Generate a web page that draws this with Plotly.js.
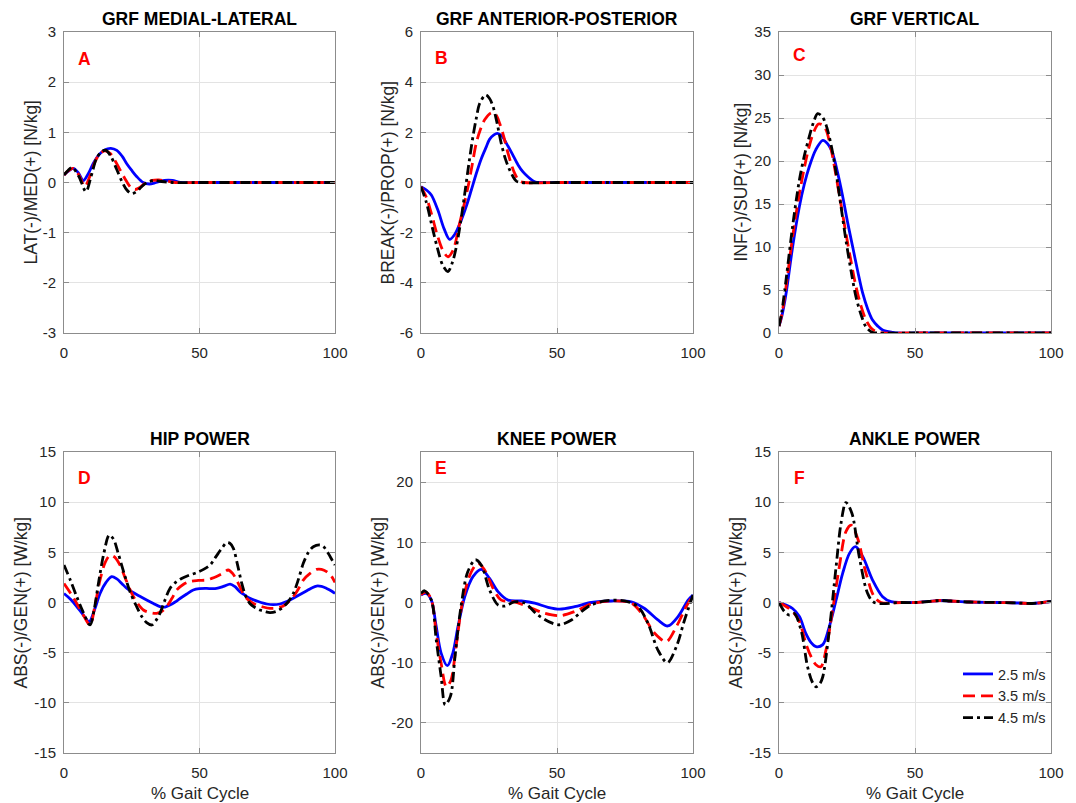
<!DOCTYPE html>
<html>
<head>
<meta charset="utf-8">
<script src="https://cdn.plot.ly/plotly-3.0.1.min.js"></script>
<style>html,body{margin:0;padding:0;background:#fff;}#chart{width:1076px;height:803px;}</style>
</head>
<body>
<div id="chart"></div>
<script>
// ---------- DATA ----------
const seriesNames = ['2.5 m/s', '3.5 m/s', '4.5 m/s'];
const panelTitles = ['GRF MEDIAL-LATERAL', 'GRF ANTERIOR-POSTERIOR', 'GRF VERTICAL', 'HIP POWER', 'KNEE POWER', 'ANKLE POWER'];
const panelLetters = ['A', 'B', 'C', 'D', 'E', 'F'];
const yTitles = ['LAT(-)/MED(+) [N/kg]', 'BREAK(-)/PROP(+) [N/kg]', 'INF(-)/SUP(+) [N/kg]', 'ABS(-)/GEN(+) [W/kg]', 'ABS(-)/GEN(+) [W/kg]', 'ABS(-)/GEN(+) [W/kg]'];
const xTitle = '% Gait Cycle';
const xTickVals = [0, 50, 100];
const xTickText = ['0', '50', '100'];
const yTickValsA = [-3, -2, -1, 0, 1, 2, 3];
const yTickTextA = ['-3', '-2', '-1', '0', '1', '2', '3'];
const yTickValsB = [-6, -4, -2, 0, 2, 4, 6];
const yTickTextB = ['-6', '-4', '-2', '0', '2', '4', '6'];
const yTickValsC = [0, 5, 10, 15, 20, 25, 30, 35];
const yTickTextC = ['0', '5', '10', '15', '20', '25', '30', '35'];
const yTickValsD = [-15, -10, -5, 0, 5, 10, 15];
const yTickTextD = ['-15', '-10', '-5', '0', '5', '10', '15'];
const yTickValsE = [-20, -10, 0, 10, 20];
const yTickTextE = ['-20', '-10', '0', '10', '20'];
const yTickValsF = [-15, -10, -5, 0, 5, 10, 15];
const yTickTextF = ['-15', '-10', '-5', '0', '5', '10', '15'];

// Panel A - GRF medial-lateral
const xA25 = [0, 1.5, 3.4, 5.2, 7.1, 9, 10.8, 13, 15, 17.3, 19.5, 21.5, 23.1, 25, 26.8, 29.2, 31.5, 34, 37, 40, 43, 50, 100];
const yA25 = [0.15, 0.22, 0.28, 0.2, 0.04, 0.18, 0.38, 0.56, 0.65, 0.68, 0.64, 0.52, 0.38, 0.24, 0.12, 0.0, -0.03, 0.0, 0.04, 0.04, 0.0, 0, 0];
const xA35 = [0, 1.5, 3.4, 5.5, 7.7, 9.5, 11.5, 13.3, 15.1, 17, 19, 21, 23, 24.7, 26.2, 28, 30, 32.5, 35, 38, 41, 50, 100];
const yA35 = [0.15, 0.23, 0.28, 0.15, -0.08, 0.12, 0.42, 0.58, 0.63, 0.58, 0.42, 0.22, 0.03, -0.1, -0.14, -0.1, -0.01, 0.04, 0.05, 0.03, 0, 0, 0];
const xA45 = [0, 1.5, 3, 5.5, 8.1, 10, 12, 14, 15.5, 17.3, 19.3, 21.3, 23.2, 24.9, 26.8, 28.7, 31, 33.5, 36, 40, 50, 100];
const yA45 = [0.15, 0.24, 0.3, 0.12, -0.18, 0.12, 0.48, 0.62, 0.64, 0.52, 0.28, 0.03, -0.15, -0.22, -0.18, -0.08, 0.01, 0.04, 0.02, 0, 0, 0];

// Panel B - GRF anterior-posterior
const xB25 = [0, 2, 3.8, 6.2, 8.5, 10.5, 12.5, 14.8, 16.8, 18.5, 20.3, 22.2, 24, 25.2, 26.8, 28.1, 29.8, 31.4, 33.5, 35.7, 37.5, 39.3, 41.8, 44, 50, 100];
const yB25 = [-0.17, -0.3, -0.5, -1.1, -1.85, -2.27, -2.05, -1.5, -0.9, -0.3, 0.35, 0.96, 1.42, 1.72, 1.9, 1.96, 1.85, 1.56, 1.15, 0.7, 0.42, 0.23, 0.03, 0, 0, 0];
const xB35 = [0, 2, 3.8, 6, 8, 9.9, 11.8, 14.2, 15.8, 17.3, 18.8, 20.3, 21.8, 23.4, 25.9, 27.5, 28.9, 30.5, 32, 34.4, 36.2, 38, 50, 100];
const yB35 = [-0.17, -0.6, -1.23, -2.1, -2.7, -2.96, -2.7, -1.63, -0.9, -0.17, 0.7, 1.56, 2.1, 2.5, 2.78, 2.7, 2.36, 1.8, 1.16, 0.37, 0.06, 0, 0, 0];
const xB45 = [0, 2, 3.8, 6, 8, 9.9, 11.5, 13, 14.6, 16.1, 17.6, 19.1, 20.4, 21.6, 23.8, 25.2, 26.5, 28, 29.5, 31, 32.6, 35, 37, 50, 100];
const yB45 = [-0.17, -0.8, -1.63, -2.6, -3.3, -3.55, -3.2, -2.56, -1.55, -0.43, 0.75, 1.83, 2.6, 3.16, 3.49, 3.35, 3.02, 2.35, 1.56, 0.95, 0.5, 0.06, 0, 0, 0];

// Panel C - GRF vertical
const xC25 = [0, 1, 2.6, 5, 7.5, 9.3, 11.1, 13.5, 16.1, 17.9, 19.7, 21.5, 23.4, 25.2, 27.1, 29, 30.8, 32.6, 34.4, 36.3, 38.1, 41.8, 44, 50, 100];
const yC25 = [0.8, 1.9, 4.6, 10, 14.7, 17.3, 19.3, 21.3, 22.4, 22.0, 20.9, 18.7, 15.9, 12.9, 10, 7.1, 4.6, 2.8, 1.5, 0.8, 0.35, 0.08, 0, 0, 0];
const xC35 = [0, 1, 2.6, 5, 7.5, 9.3, 11.1, 12.8, 14.5, 16, 17.3, 19.2, 21, 22.8, 24.6, 26.5, 28.3, 30.2, 32, 33.8, 35.7, 38, 50, 100];
const yC35 = [0.8, 2.1, 5.4, 11.2, 16.2, 19.2, 21.7, 23.4, 24.3, 24.2, 23.6, 21.3, 18.2, 14.9, 11.6, 8.3, 5.4, 3.1, 1.5, 0.6, 0.15, 0, 0, 0];
const xC45 = [0, 1, 2.6, 5, 7.5, 9.3, 11.1, 12.7, 14.2, 15.8, 17.3, 19.2, 21, 22.8, 24.6, 26.5, 28.3, 30.2, 32, 34.4, 36, 50, 100];
const yC45 = [0.8, 2.4, 6.2, 12.4, 17.8, 20.6, 22.8, 24.5, 25.5, 25.2, 24.2, 21.8, 18.6, 14.7, 10.8, 7.2, 4.2, 2.1, 0.7, 0.05, 0, 0, 0];

// Panel D - hip power
const xD25 = [0, 2.5, 4.7, 7, 9.3, 11.3, 13.3, 15.5, 17.6, 19.5, 21.3, 23, 25, 27.8, 30.5, 33, 35.4, 37.3, 39.1, 41, 42.8, 45.3, 47.7, 50, 52.7, 54.5, 56.3, 58.8, 61.3, 63, 64.9, 66.8, 68.6, 71.7, 74.8, 77.2, 79.7, 82.2, 84.6, 87.1, 89.6, 91.4, 93.2, 95, 96.9, 98.7, 100];
const yD25 = [0.9, 0.3, -0.4, -1.2, -1.9, -0.7, 0.9, 2.0, 2.57, 2.35, 1.9, 1.45, 1.08, 0.65, 0.25, -0.1, -0.42, -0.45, -0.25, 0.05, 0.4, 0.85, 1.25, 1.38, 1.4, 1.38, 1.4, 1.6, 1.84, 1.6, 1.08, 0.72, 0.42, 0.1, -0.15, -0.22, -0.15, 0.1, 0.42, 0.8, 1.18, 1.45, 1.64, 1.6, 1.4, 1.15, 0.9];
const xD35 = [0, 2.5, 4.7, 7, 9.6, 11.5, 13.3, 15.2, 17, 18.8, 20.7, 22.8, 25, 27.2, 29.3, 31.7, 34.2, 36, 37.9, 39.8, 41.6, 44, 46.5, 49.5, 52.7, 54.5, 56.3, 58.5, 60.6, 62.2, 63.7, 65.2, 66.8, 69, 71.1, 73.5, 76, 78.5, 80.9, 82.8, 84.6, 86.5, 88.3, 90.8, 93.2, 95, 96.9, 98.7, 100];
const yD35 = [1.9, 0.9, -0.1, -1.2, -2.24, -0.2, 2.24, 4.0, 4.7, 4.5, 3.7, 2.3, 0.9, -0.1, -0.75, -1.0, -1.08, -0.9, -0.4, 0.4, 1.25, 1.8, 2.1, 2.2, 2.24, 2.4, 2.6, 2.9, 3.24, 2.9, 2.24, 1.4, 0.58, 0.05, -0.25, -0.45, -0.58, -0.55, -0.35, 0.05, 0.58, 1.35, 2.24, 2.9, 3.3, 3.3, 3.07, 2.6, 2.0];
const xD45 = [0, 2.4, 4.7, 7, 9.6, 11.2, 12.7, 14.7, 16.7, 18.3, 20, 22.3, 24.6, 26.6, 28.7, 30.5, 32.4, 33.9, 35.4, 37.2, 39.1, 41.2, 43.4, 46, 48.9, 51.5, 53.9, 55.4, 56.9, 58.5, 60, 61.2, 62.5, 64, 65.6, 67.1, 68.6, 70.5, 72.3, 74.2, 76, 78.2, 80.3, 82.5, 84.6, 86.5, 88.3, 90.2, 92, 94.5, 96, 97.5, 99, 100];
const yD45 = [3.74, 2.2, 0.58, -0.9, -2.24, -0.6, 1.9, 4.9, 6.72, 6.3, 4.9, 2.8, 0.9, -0.3, -1.4, -2.0, -2.24, -1.8, -1.08, 0.2, 1.4, 2.0, 2.4, 2.7, 2.97, 3.3, 3.74, 4.3, 4.9, 5.5, 5.96, 5.9, 5.4, 3.8, 1.9, 0.6, -0.1, -0.5, -0.75, -0.9, -1.0, -0.9, -0.58, 0.0, 0.9, 2.3, 3.9, 5.0, 5.56, 5.73, 5.5, 4.9, 4.2, 3.74];

// Panel E - knee power
const xE25 = [0, 1.9, 3.8, 5.6, 7.4, 9.7, 11.7, 13.6, 16.1, 19.1, 22.2, 25.2, 28.3, 32, 36.9, 41.8, 46.7, 51, 56.5, 62.6, 70, 77.3, 82.2, 87.1, 90.8, 94.5, 98.2, 100];
const yE25 = [1.25, 1.5, 0.4, -4, -8.4, -10.5, -8.4, -4, 1, 4.3, 5.5, 4, 1.8, 0.4, 0.25, -0.1, -0.8, -1.1, -0.7, 0, 0.25, 0.1, -1, -2.9, -3.9, -2.35, 0.4, 1.25];
const xE35 = [0, 1.9, 3.8, 5.6, 7.4, 9.3, 11, 12.9, 15.4, 18.5, 21, 23.4, 26.5, 29.5, 34.4, 39.3, 45.5, 51, 56.5, 62.6, 70, 77.3, 81.6, 85.9, 90.2, 93.9, 97.5, 100];
const yE35 = [1.3, 1.7, 0.5, -5.1, -10.1, -14, -12.9, -7.3, 0.4, 5.1, 6.5, 5.4, 2.35, 0.4, 0.1, -0.7, -1.8, -2.2, -1.5, -0.25, 0.25, -0.1, -2.1, -5.1, -6.5, -4, -0.7, 1.25];
const xE45 = [0, 1.3, 3.8, 5.6, 7.4, 8.9, 10.8, 12.5, 14.7, 17.2, 20, 22.2, 25.2, 28.3, 30.8, 34.4, 38.1, 43, 47.8, 51, 55.3, 61.4, 67.5, 74.8, 79.8, 83.5, 87.1, 90.6, 93.9, 96.9, 100];
const yE45 = [1.5, 1.95, 0.4, -6.2, -12.3, -17, -15.6, -9, -0.7, 5.1, 7.1, 6.2, 2.1, -0.4, -0.6, 0.1, -0.1, -2.1, -3.35, -3.7, -2.9, -0.7, 0.25, 0.25, -0.7, -3.5, -7.9, -10, -7.3, -2.9, 1.25];

// Panel F - ankle power
const xF25 = [0, 2.6, 5, 7.5, 9.9, 11.8, 13.6, 16.1, 18.5, 21, 23.4, 25.9, 28.1, 30.8, 34.4, 38.1, 41.2, 45, 50, 55, 59, 63, 70, 80, 88, 93, 97, 100];
const yF25 = [0, -0.25, -0.6, -1.4, -3.1, -4.0, -4.4, -4.2, -2.4, 0.25, 2.9, 4.9, 5.56, 4.57, 2.24, 0.58, 0.08, 0, 0, 0.1, 0.2, 0.15, 0.05, 0, -0.05, -0.1, 0, 0.1];
const xF35 = [0, 2.6, 5, 7.5, 9.9, 11.8, 13.6, 15.4, 17.3, 19.7, 22.2, 24.6, 26.5, 28.9, 32, 35, 37.5, 45, 50, 55, 59, 63, 70, 80, 88, 93, 97, 100];
const yF35 = [0, -0.4, -0.9, -1.9, -4.1, -5.4, -6.2, -6.4, -4.7, -0.75, 3.6, 7.06, 7.7, 6.4, 2.9, 0.58, 0, 0, 0, 0.1, 0.2, 0.15, 0.05, 0, -0.05, -0.1, 0, 0.1];
const xF45 = [0, 2, 3.8, 5.6, 8.1, 10.5, 12.2, 13.6, 15, 16.1, 18.5, 21, 22.8, 24.6, 26.8, 29.5, 32.6, 35, 45, 50, 55, 59, 63, 70, 80, 88, 93, 97, 100];
const yF45 = [0, -0.9, -1.25, -1.1, -2.74, -6.4, -7.9, -8.4, -8.1, -7.4, -2.74, 3.6, 7.9, 9.95, 8.9, 4.57, 0.9, 0, 0, 0, 0.1, 0.2, 0.15, 0.05, 0, -0.05, -0.1, 0, 0.1];

// ---------- BUILD ----------
const W = 1076, H = 803;
const FONT = 'Liberation Sans, Arial, Helvetica, sans-serif';
const TXT = '#262626';
const colors = ['#0000ff', '#ff0000', '#000000'];
const dashes = ['solid', '12px,6px', '10px,4px,3px,4px'];

const panelData = [
  [[xA25, yA25], [xA35, yA35], [xA45, yA45]],
  [[xB25, yB25], [xB35, yB35], [xB45, yB45]],
  [[xC25, yC25], [xC35, yC35], [xC45, yC45]],
  [[xD25, yD25], [xD35, yD35], [xD45, yD45]],
  [[xE25, yE25], [xE35, yE35], [xE45, yE45]],
  [[xF25, yF25], [xF35, yF35], [xF45, yF45]]
];
const yRanges = [[-3, 3], [-6, 6], [0, 35], [-15, 15], [-25, 25], [-15, 15]];
const yTicks = [[yTickValsA, yTickTextA], [yTickValsB, yTickTextB], [yTickValsC, yTickTextC], [yTickValsD, yTickTextD], [yTickValsE, yTickTextE], [yTickValsF, yTickTextF]];

// pixel boxes of plot areas [left, right, top, bottom]
const boxes = [
  [64, 335, 32, 333], [421, 693, 32, 333], [779, 1051, 32, 333],
  [64, 335, 452, 753], [421, 693, 452, 753], [779, 1051, 452, 753]
];
const yTitleX = [30, 387, 740, 20, 377, 735];
const letterPos = [[7.4, 2.46], [7.4, 4.96], [7.4, 32.3], [7.4, 12.4], [7.4, 22.3], [7.4, 12.4]];

const traces = [];
const layout = {
  width: W, height: H,
  margin: {l: 0, r: 0, t: 0, b: 0},
  paper_bgcolor: '#fff', plot_bgcolor: '#fff',
  font: {family: FONT, color: TXT, size: 15},
  showlegend: true,
  legend: {
    x: 958 / W, y: 1 - 658 / H, xanchor: 'left', yanchor: 'top',
    bgcolor: 'rgba(0,0,0,0)', borderwidth: 0,
    font: {family: FONT, size: 14.5, color: TXT},
    tracegroupgap: 0, itemwidth: 30
  },
  annotations: []
};

for (let p = 0; p < 6; p++) {
  const ax = p === 0 ? '' : String(p + 1);
  const b = boxes[p];
  for (let s = 0; s < 3; s++) {
    traces.push({
      type: 'scatter', mode: 'lines',
      x: panelData[p][s][0], y: panelData[p][s][1],
      xaxis: 'x' + ax, yaxis: 'y' + ax,
      name: seriesNames[s],
      showlegend: p === 5,
      line: {color: colors[s], width: 2.8, dash: dashes[s], shape: 'spline', smoothing: 0.9},
      hoverinfo: 'skip'
    });
  }
  const common = {
    showline: true, linecolor: '#8c8c8c', linewidth: 1, mirror: 'ticks',
    ticks: 'inside', ticklen: 5, tickcolor: '#8c8c8c', tickwidth: 1,
    showgrid: true, gridcolor: '#e3e3e3', gridwidth: 1,
    zeroline: false, tickfont: {family: FONT, size: 15, color: TXT},
    fixedrange: true
  };
  layout['xaxis' + ax] = Object.assign({}, common, {
    domain: [b[0] / W, b[1] / W], range: [0, 100],
    tickmode: 'array', tickvals: xTickVals, ticktext: xTickText,
    anchor: 'y' + ax, ticklabelstandoff: 6
  });
  layout['yaxis' + ax] = Object.assign({}, common, {
    domain: [1 - b[3] / H, 1 - b[2] / H], range: yRanges[p],
    tickmode: 'array', tickvals: yTicks[p][0], ticktext: yTicks[p][1],
    anchor: 'x' + ax, ticklabelstandoff: 4
  });
  // panel title
  layout.annotations.push({
    xref: 'paper', yref: 'paper', x: ((b[0] + b[1]) / 2) / W, y: 1 - (b[2] - 13) / H,
    xanchor: 'center', yanchor: 'middle', showarrow: false,
    text: '<b>' + panelTitles[p] + '</b>', font: {family: FONT, size: 17.5, color: '#000'}
  });
  // y title
  layout.annotations.push({
    xref: 'paper', yref: 'paper', x: yTitleX[p] / W, y: 1 - ((b[2] + b[3]) / 2) / H,
    xanchor: 'center', yanchor: 'middle', showarrow: false, textangle: -90,
    text: yTitles[p], font: {family: FONT, size: 17.5, color: TXT}
  });
  // panel letter
  layout.annotations.push({
    xref: 'x' + ax, yref: 'y' + ax, x: letterPos[p][0], y: letterPos[p][1],
    xanchor: 'center', yanchor: 'middle', showarrow: false,
    text: '<b>' + panelLetters[p] + '</b>', font: {family: FONT, size: 17.5, color: '#ff0000'}
  });
  // x title (bottom row only)
  if (p >= 3) {
    layout.annotations.push({
      xref: 'paper', yref: 'paper', x: ((b[0] + b[1]) / 2) / W, y: 1 - 793 / H,
      xanchor: 'center', yanchor: 'middle', showarrow: false,
      text: xTitle, font: {family: FONT, size: 17, color: TXT}
    });
  }
}

Plotly.newPlot('chart', traces, layout, {displayModeBar: false, staticPlot: true});
</script>
</body>
</html>
